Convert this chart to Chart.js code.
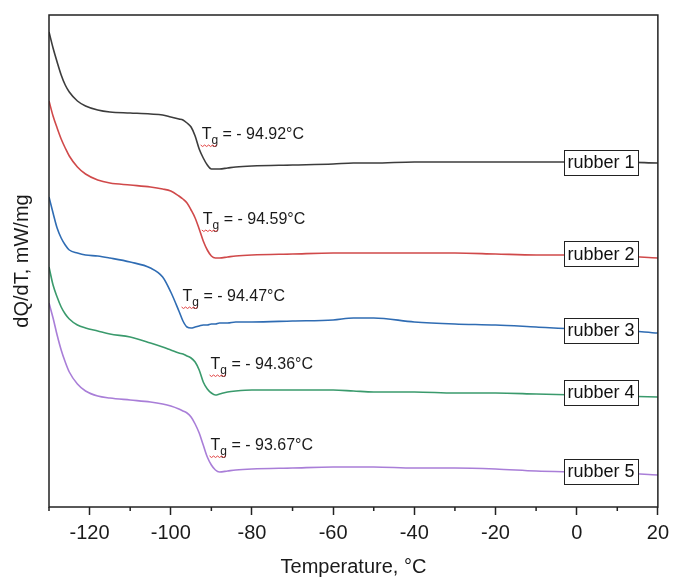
<!DOCTYPE html>
<html>
<head>
<meta charset="utf-8">
<script src="https://cdn.jsdelivr.net/npm/chart.js@4"></script>
<style>
html, body { margin: 0; padding: 0; background: #fff; }
#wrap { width: 675px; height: 580px; }
</style>
</head>
<body>
<div id="wrap"><canvas id="graficoDSC"></canvas></div>
<script>
// Temperaturas (°C)
const temperaturas = [-130, -129, -128, -127, -126, -125, -123, -121, -118, -115, -110, -105, -102, -100,
  -98, -97, -96, -95, -94, -93, -92, -91, -90, -89, -88, -86, -84, -80, -70, -60, -55, -50, -40, -30,
  -20, -10, 0, 10, 20];

// dQ/dT deslocado (unidades arbitrárias) para cada borracha
const rubber1 = [475, 459, 445, 432, 422, 415, 406, 401, 397, 395, 394, 393, 392, 390, 388, 387, 384, 380,
  371, 358, 349, 342, 338, 338, 338, 339, 340, 341, 342, 343, 344, 344, 345, 345, 345, 345, 345, 345, 344];
const rubber2 = [406, 391, 379, 368, 359, 351, 340, 333, 327, 324, 322, 320, 318, 316, 311, 308, 304, 297,
  289, 278, 266, 257, 251, 249, 249, 250, 251, 252, 253, 254, 254, 254, 254, 254, 253, 252, 252, 251, 249];
const rubber3 = [310, 294, 279, 269, 262, 257, 254, 252, 251, 249, 245, 239, 230, 215, 196, 186, 180, 179,
  180, 181, 182, 182, 183, 183, 184, 184, 185, 185, 186, 187, 189, 189, 185, 183, 182, 180, 178, 177, 174];
const rubber4 = [240, 222, 210, 200, 193, 188, 182, 179, 176, 173, 170, 164, 160, 157, 154, 153, 151, 149,
  145, 137, 125, 118, 114, 112, 113, 115, 116, 117, 117, 117, 116, 115, 115, 114, 114, 113, 112, 111, 110];
const rubber5 = [204, 189, 172, 157, 145, 135, 123, 116, 111, 109, 107, 105, 103, 101, 98, 96, 94, 90,
  83, 74, 62, 50, 42, 37, 35, 36, 37, 38, 39, 40, 40, 40, 39, 39, 38, 36, 35, 34, 32];

const nomes = ['rubber 1', 'rubber 2', 'rubber 3', 'rubber 4', 'rubber 5'];
const valoresTg = ['- 94.92°C', '- 94.59°C', '- 94.47°C', '- 94.36°C', '- 93.67°C'];
const ticksX = [-120, -100, -80, -60, -40, -20, 0, 20];
const ticksMenores = [-130, -110, -90, -70, -50, -30, -10, 10];

// posições dos textos (coordenadas do gráfico)
const posTg = [[-92.4, 372], [-92.1, 287], [-97.1, 210], [-90.2, 142], [-90.2, 61]];
const posCaixas = [345, 253, 177, 115, 36];
const cores = ['#3c3c3c', '#d0494a', '#2f6cb3', '#3a9a6c', '#a97ed8'];

const series = [rubber1, rubber2, rubber3, rubber4, rubber5];
const fonte = '"Liberation Sans", Arial, sans-serif';

// Plugin para textos, caixas, moldura e ticks menores
const extras = {
  id: 'extras',
  afterDatasetsDraw(chart) {
    const { ctx, chartArea: a, scales: { x, y } } = chart;
    ctx.save();
    // Tg
    posTg.forEach((p, i) => {
      const px = x.getPixelForValue(p[0]);
      const py = y.getPixelForValue(p[1]);
      ctx.fillStyle = '#1a1a1a';
      ctx.textBaseline = 'middle';
      ctx.textAlign = 'left';
      ctx.font = '16px ' + fonte;
      ctx.fillText('T', px, py);
      const wT = ctx.measureText('T').width;
      ctx.font = '12px ' + fonte;
      ctx.fillText('g', px + wT, py + 6);
      const wg = ctx.measureText('g').width;
      ctx.font = '16px ' + fonte;
      ctx.fillText(' = ' + valoresTg[i], px + wT + wg, py);
      // sublinhado ondulado vermelho
      ctx.strokeStyle = '#e04040';
      ctx.lineWidth = 1;
      ctx.beginPath();
      for (let k = 0; k <= 8; k++) {
        const xx = px - 1 + k * 2;
        const yy = py + 10 + (k % 2 === 0 ? 0 : 1.5);
        if (k === 0) ctx.moveTo(xx, yy); else ctx.lineTo(xx, yy);
      }
      ctx.stroke();
    });
    // caixas com os nomes
    ctx.font = '18px ' + fonte;
    ctx.textAlign = 'center';
    posCaixas.forEach((v, i) => {
      const cx = x.getPixelForValue(6);
      const cy = y.getPixelForValue(v);
      ctx.fillStyle = '#fff';
      ctx.fillRect(cx - 37, cy - 12.5, 74, 25);
      ctx.strokeStyle = '#222';
      ctx.lineWidth = 1;
      ctx.strokeRect(Math.round(cx - 37) + 0.5, Math.round(cy - 12.5) + 0.5, 74, 25);
      ctx.fillStyle = '#111';
      ctx.fillText(nomes[i], cx, cy + 1);
    });
    // moldura
    ctx.strokeStyle = '#222';
    ctx.lineWidth = 1.5;
    ctx.strokeRect(a.left, a.top, a.right - a.left, a.bottom - a.top);
    // ticks menores
    ctx.beginPath();
    ticksMenores.forEach(v => {
      const px = x.getPixelForValue(v);
      ctx.moveTo(px, a.bottom);
      ctx.lineTo(px, a.bottom + 4);
    });
    ctx.stroke();
    ctx.restore();
  }
};

const ctx = document.getElementById('graficoDSC').getContext('2d');
const grafico = new Chart(ctx, {
  type: 'line',
  data: {
    datasets: series.map((s, i) => ({
      label: nomes[i],
      data: temperaturas.map((t, j) => ({ x: t, y: s[j] })),
      borderColor: cores[i],
      borderWidth: 1.6,
      pointRadius: 0,
      cubicInterpolationMode: 'monotone',
      fill: false
    }))
  },
  options: {
    responsive: true,
    maintainAspectRatio: false,
    animation: false,
    layout: { padding: { left: 6, right: 16, top: 15, bottom: 1 } },
    plugins: { legend: { display: false }, tooltip: { enabled: false } },
    scales: {
      x: {
        type: 'linear',
        min: -130,
        max: 20,
        afterBuildTicks: scale => { scale.ticks = ticksX.map(v => ({ value: v })); },
        ticks: { color: '#1a1a1a', font: { size: 20, family: fonte }, padding: 6, maxRotation: 0, callback: v => v },
        grid: { display: true, drawOnChartArea: false, drawTicks: true, tickLength: 8, tickColor: '#222', tickWidth: 1.5 },
        border: { display: false },
        title: { display: true, text: 'Temperature, °C', color: '#1a1a1a', font: { size: 20, family: fonte }, padding: { top: 4, bottom: 0 } }
      },
      y: {
        min: 0,
        max: 492,
        ticks: { display: false },
        grid: { display: false, drawTicks: false, tickLength: 0 },
        border: { display: false },
        title: { display: true, text: 'dQ/dT, mW/mg', color: '#1a1a1a', font: { size: 20, family: fonte }, padding: { top: 4, bottom: 15 } }
      }
    }
  },
  plugins: [extras]
});
</script>
</body>
</html>
